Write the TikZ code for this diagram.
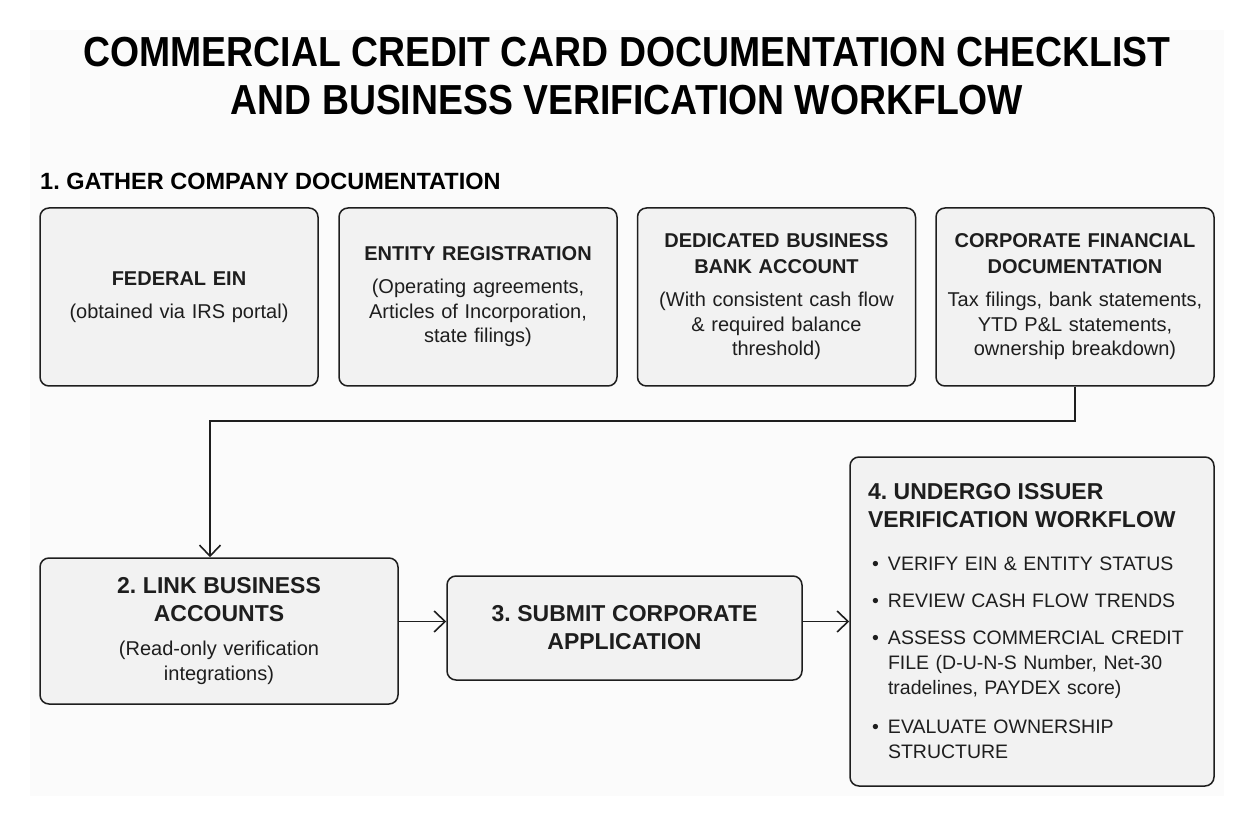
\documentclass[tikz,border=0pt]{standalone}
\usepackage{fontspec}
\setmainfont{Liberation Sans}
\newfontfamily\titlefont{Liberation Sans}[FakeStretch=0.89]
\usepackage{tikz}
\usetikzlibrary{arrows.meta,positioning}
\frenchspacing

\definecolor{pagebg}{HTML}{FBFBFB}
\definecolor{cardfill}{HTML}{F2F2F2}
\definecolor{ink}{HTML}{1E1E1E}

\newcommand{\cardhead}[1]{{\bfseries\fontsize{20}{26}\selectfont #1\par}\vspace{8.5pt}}
\newcommand{\stephead}[1]{{\bfseries\fontsize{23}{28}\selectfont #1\par}}
\newcommand{\checkitem}[1]{\par\noindent\hangindent=20pt\hangafter=1\makebox[20pt][l]{\hspace{4pt}\textbullet}#1}

\begin{document}
\begin{tikzpicture}
[x=1pt,y=-1pt]
\tikzset{
	card/.style = {draw=ink, line width=1.5pt, rounded corners=9pt, fill=cardfill,
		inner sep=10pt, align=center, text=ink,
		font=\fontsize{20}{24.5}\selectfont},
	doc/.style = {card, minimum width=278, minimum height=178, text width=258},
	flow/.style = {draw=ink, line width=1.6pt, -{Straight Barb[length=11pt,width=21pt,line width=1.6pt]}}
}

\useasboundingbox (0,0) rectangle (1254,826);
\fill[white] (0,0) rectangle (1254,826);
\fill[pagebg] (30,30) rectangle (1224,796);

% title and section heading
\node (title) [align=center, inner sep=0, text=black, font=\titlefont\bfseries\fontsize{42}{48}\selectfont]
	at (627,76) {COMMERCIAL CREDIT CARD DOCUMENTATION CHECKLIST\\AND BUSINESS VERIFICATION WORKFLOW};
\node (gather) [anchor=west, inner sep=0, text=black, font=\bfseries\fontsize{23.5}{28}\selectfont]
	at (40,181) {1. GATHER COMPANY DOCUMENTATION};

% documentation cards
\node (ein) [doc] at (179,297) {\cardhead{FEDERAL EIN}(obtained via IRS portal)};
\node (entity) [doc] at (478,297) {\cardhead{ENTITY REGISTRATION}(Operating agreements,\\Articles of Incorporation,\\state filings)};
\node (bank) [doc] at (776.5,297) {\cardhead{DEDICATED BUSINESS\\BANK ACCOUNT}(With consistent cash flow\\\& required balance\\threshold)};
\node (fin) [doc] at (1075,297) {\cardhead{CORPORATE FINANCIAL\\DOCUMENTATION}Tax filings, bank statements,\\YTD P\&L statements,\\ownership breakdown)};

% workflow steps
\node (link) [card, minimum width=358, minimum height=146, text width=338] at (219,631)
	{\stephead{2. LINK BUSINESS\\ACCOUNTS}\vspace{10pt}(Read-only verification\\integrations)};
\node (submit) [card, minimum width=355, minimum height=104, text width=335] at (624.5,628)
	{\stephead{3. SUBMIT CORPORATE\\APPLICATION}};
\node (issuer) [card, align=left, inner sep=18pt, minimum width=364, minimum height=329, text width=328,
	font=\fontsize{19.5}{25}\selectfont] at (1032,621.5)
	{\stephead{4. UNDERGO ISSUER\\VERIFICATION WORKFLOW}\vspace{18pt}%
	\checkitem{VERIFY EIN \& ENTITY STATUS}\par\vspace{12pt}%
	\checkitem{REVIEW CASH FLOW TRENDS}\par\vspace{12pt}%
	\checkitem{ASSESS COMMERCIAL CREDIT\newline FILE (D-U-N-S Number, Net-30\newline tradelines, PAYDEX score)}\par\vspace{14pt}%
	\checkitem{EVALUATE OWNERSHIP\newline STRUCTURE}\par};

% connectors
\draw[flow] (fin.south) -- ++(0,34) -| ([xshift=-9pt]link.north);
\draw[flow] (link.east |- issuer.west) -- (submit.west |- issuer.west);
\draw[flow] (submit.east |- issuer.west) -- (issuer.west);

\end{tikzpicture}
\end{document}
